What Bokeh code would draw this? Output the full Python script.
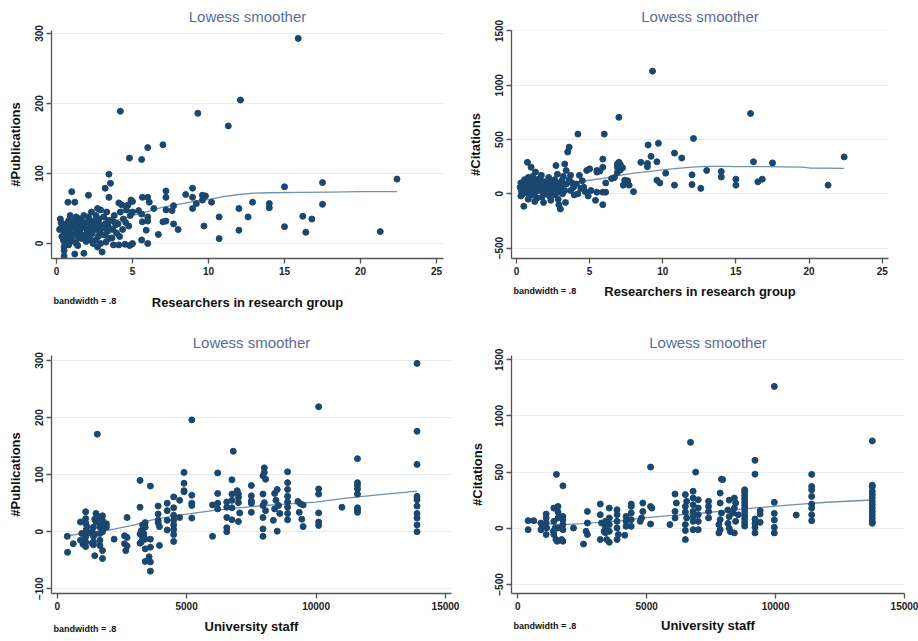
import json
from bokeh.plotting import figure
from bokeh.layouts import column, row
from bokeh.models import Range1d, FixedTicker, LinearAxis, CustomJSTickFormatter
from bokeh.embed import file_html
from bokeh.resources import INLINE

# ---------------- Top-left: #Publications vs researchers ----------------
researchers_tl = [
    15.9, 12.1, 4.2, 9.3, 11.3, 7.0, 6.0, 4.8, 5.6, 3.45, 3.55, 3.2, 1.0, 2.1, 3.45, 0.75, 1.2,
    22.4, 17.5, 15.0, 17.5, 14.0, 14.0, 12.9, 12.0, 12.6, 12.0, 10.7, 10.7, 10.2, 15.0, 16.2, 16.8, 16.4, 21.3, 9.7,
    8.95, 8.95, 8.95, 9.6, 9.8, 9.6, 9.2, 8.5, 8.0, 7.7, 7.7, 7.6, 7.2, 7.2, 7.2, 7.0, 7.2, 6.7,
    6.4, 6.0, 6.1, 6.0, 6.0, 5.9, 6.0, 5.65, 5.65, 5.6, 5.4, 5.6, 5.0, 5.0, 5.0, 4.8, 4.5, 4.1,
    0.25, 0.3, 0.4, 0.2, 0.5, 0.35, 0.45, 0.55, 0.5, 0.5, 0.5, 0.6, 0.3, 0.6,
    0.9, 0.8, 0.95, 0.7, 0.85, 1.0, 0.75, 0.9, 0.8, 0.95, 0.7,
    1.3, 1.15, 1.4, 1.1, 1.35, 1.2, 1.45, 1.05, 1.3, 1.4, 1.2, 1.5, 1.25,
    1.8, 1.6, 1.9, 1.7, 2.0, 1.55, 1.85, 1.65, 1.95, 1.8, 1.75, 1.6,
    2.3, 2.1, 2.4, 2.2, 2.45, 2.15, 2.35, 2.05, 2.25, 2.4, 2.1, 2.3,
    2.7, 2.9, 2.6, 2.8, 2.55, 2.95, 2.65, 2.85, 2.75, 2.6, 2.9, 2.7, 3.0, 2.8,
    3.3, 3.1, 3.4, 3.2, 3.05, 3.35, 3.15, 3.45, 3.25, 3.4,
    3.8, 3.6, 3.9, 3.7, 3.95, 3.65, 3.75, 3.85,
    4.1, 4.3, 4.2, 4.4, 4.05, 4.35, 4.15,
    4.9, 4.7, 4.6, 4.85, 4.55, 4.75, 4.95,
]
publications_tl = [
    293, 205, 189, 186, 168, 141, 137, 122, 120, 99, 86, 79, 74, 69, 66, 59, 59,
    92, 87, 81, 56, 57, 51, 59, 50, 38, 19, 38, 7, 59, 24, 39, 35, 16, 17, 25,
    79, 66, 50, 69, 68, 62, 57, 70, 20, 28, 54, 47, 75, 66, 48, 31, 32, 13,
    50, 66, 59, 38, 32, 19, 0, 66, 31, 5, 47, 42, 60, 45, 0, -3, -1, -2,
    35, 30, 25, 20, 15, 10, 5, 0, -5, -10, -18, 28, 22, 12,
    40, 33, 28, 22, 17, 12, 8, 3, -2, 30, 25,
    38, 32, 27, 22, 18, 13, 8, 4, 0, -3, -15, 35, 25,
    40, 35, 30, 25, 20, 16, 12, 7, 3, -14, 28, 22,
    45, 38, 32, 27, 23, 18, 14, 10, 5, 0, 30, 20,
    50, 48, 40, 35, 30, 25, 20, 15, 10, 5, 0, -5, -12, 28,
    45, 38, 33, 28, 22, 17, 12, 7, 2, 25,
    40, 33, 27, 20, 15, 8, -2, 30,
    58, 55, 45, 35, 28, 20, 10,
    62, 55, 48, 40, 30, 25, -1,
]
lowess_x_tl = [0.3, 1, 2, 3, 4, 5, 6, 7, 8, 9, 10, 11, 12, 13, 14, 16, 18, 20, 22.4]
lowess_y_tl = [12, 15, 20, 26, 33, 40, 46, 52, 56, 60, 63, 67, 70, 72, 72.5, 73, 73.5, 74, 74]

# ---------------- Top-right: #Citations vs researchers ----------------
researchers_tr = [
    9.3, 16.0, 7.0, 4.2, 6.0, 12.1, 9.7, 9.0, 3.6, 3.5, 10.8, 9.2, 11.3, 22.4, 5.9,
    16.2, 17.5, 8.5, 8.95, 8.95, 9.6, 7.0, 7.1, 7.25, 7.1, 10.2, 12.0, 13.0, 14.0, 14.0,
    15.0, 15.0, 16.8, 16.5, 21.3, 12.6, 12.0, 10.8, 9.6, 9.8, 8.0, 7.6, 7.7, 7.3, 6.1,
    5.9, 6.1, 5.4, 5.9, 5.9, 5.7, 5.5, 6.7, 6.9, 6.9, 6.9, 6.5, 7.4, 4.6, 5.1,
    5.5, 4.8, 5.0, 5.5, 4.3, 4.5, 3.3, 3.4, 3.7, 2.7, 0.75, 1.0, 0.5, 3.0,
    0.3, 0.4, 0.25, 0.5, 0.35, 0.45, 0.3, 0.55, 0.5,
    0.8, 0.9, 0.7, 0.95, 0.85, 0.75, 0.9, 0.8, 1.0,
    1.3, 1.1, 1.4, 1.2, 1.45, 1.05, 1.35, 1.15, 1.4, 1.25,
    1.7, 1.6, 1.9, 1.55, 1.8, 1.65, 1.95, 1.75, 1.85,
    2.2, 2.4, 2.05, 2.3, 2.15, 2.45, 2.25, 2.35,
    2.8, 2.6, 2.9, 2.55, 2.75, 2.95, 2.65, 2.85, 2.9,
    3.2, 3.1, 3.4, 3.05, 3.3, 3.15, 3.35,
    3.6, 3.8, 3.9, 3.7, 3.95,
    4.1, 4.4, 4.7, 4.2, 4.9,
    0.6, 1.1, 1.5, 2.0, 2.5, 3.0, 0.9, 1.3, 1.7, 2.1,
]
citations_tr = [
    1130, 740, 705, 550, 550, 510, 465, 450, 430, 385, 375, 345, 330, 340, 320,
    295, 285, 290, 280, 250, 295, 290, 270, 240, 220, 190, 175, 215, 205, 155,
    135, 80, 135, 110, 80, 50, 85, 80, 125, 100, 20, 120, 80, 80, 100,
    15, 15, -60, -100, 245, 210, 200, 150, 274, 243, 197, 140, 125, 60, 30,
    15, 215, 230, 215, 170, 120, 275, 215, 170, 260, 290, 245, -115, -140,
    100, 80, 60, 40, 20, 0, -20, 130, 70,
    150, 110, 80, 50, 30, 10, -20, -50, 90,
    200, 160, 130, 100, 70, 50, 20, -10, -40, -70,
    170, 140, 110, 80, 50, 30, 0, -30, -80,
    150, 120, 90, 60, 40, 10, -20, -60,
    180, 130, 100, 70, 40, 20, -10, -50, -100,
    160, 120, 90, 60, 30, 0, -80,
    130, 100, 60, 30, -10,
    90, 50, 20, 0, -20,
    50, 120, 60, 100, 90, 50, 60, 80, 100, 70,
]
lowess_x_tr = [0.3, 1, 2, 3, 4, 5, 6, 7, 8, 9, 10, 11, 12, 13, 14, 15, 17, 19.5, 20, 22.4]
lowess_y_tr = [60, 65, 75, 88, 105, 125, 145, 168, 190, 205, 220, 235, 245, 252, 252, 251, 250, 246, 238, 235]

# ---------------- Bottom-left: #Publications vs university staff ----------------
staff_bl = [
    13900, 13900, 13900, 13900, 13900, 13900, 13900, 13900, 13900, 13900,
    10100, 5200, 1550, 6800, 11000,
    11600, 11600, 11600, 11600, 11600, 11600, 11600, 11600,
    10100, 10100, 10100, 10100, 10100,
    9400, 9500, 9350, 9450, 9500, 9300,
    8900, 8900, 8900, 8900, 8900, 8900, 8900, 8900,
    8500, 8400, 8450, 8550, 8400, 8600, 8350, 8500,
    8000, 8000, 7950, 8050, 7950, 8000, 7950, 8050, 7950, 7950, 7950,
    7500, 7500, 7500, 7500, 7500,
    7000, 7000, 7000, 6950, 7050, 7000,
    6750, 6750, 6750, 6750, 6750,
    6550, 6550, 6550, 6550, 6550,
    6200, 6200, 6200, 6200,
    6000, 6000,
    5200, 5200, 5200, 5200,
    4900, 4900, 4900, 4900,
    4730, 4730,
    4500, 4500, 4500, 4500, 4500, 4500, 4500, 4500,
    4250, 4250, 4250, 4250,
    3900, 3900, 3900, 3900, 3950, 3950,
    3600, 3600, 3600, 3550, 3600, 3600,
    3400, 3400, 3350, 3400, 3400, 3400,
    3200, 3200, 3200, 3200,
    3300, 3300, 3250, 3350, 3300, 3250,
    2700, 2700, 2700, 2650,
    2600, 2600,
    2200,
    1900, 1900,
    1750, 1750, 1750, 1750, 1750, 1750,
    1650, 1650, 1650, 1650, 1650, 1650,
    1500, 1450, 1500, 1450, 1400, 1450,
    1400, 1350, 1400, 1350, 1400,
    1100, 1100, 1100, 1150, 1120, 1160, 1100, 1100, 1100,
    900, 950, 900, 1000,
    620,
    390, 400,
]
publications_bl = [
    295, 176, 118, 62, 56, 45, 32, 24, 12, 0,
    219, 196, 171, 141, 43,
    128, 86, 81, 75, 66, 42, 38, 34,
    75, 66, 33, 17, 11,
    49, 47, 34, 22, 9, 53,
    105, 86, 74, 62, 52, 43, 32, 21,
    74, 67, 55, 46, 40, 32, 20, 1,
    112, 104, 98, 92, 66, 51, 46, 37, 25, 5, -8,
    81, 63, 54, 50, 34,
    66, 60, 51, 72, 33, 18,
    91, 55, 42, 21, 66,
    52, 43, 25, 7, 0,
    103, 67, 50, 40,
    47, -8,
    64, 50, 46, 24,
    104, 85, 72, 70,
    55, 25,
    61, 42, 29, 20, 12, 4, -5, -17,
    50, 37, 20, 3,
    45, 31, 20, 16, 9, -24,
    80, -13, -27, -44, -53, -69,
    16, 8, -4, -13, -30, -52,
    90, 43, -4, -20,
    12, -1, 2, -9, -10, -18,
    25, -10, -25, -33,
    -7, -21,
    -13,
    14, 8,
    28, 20, 10, 0, -33, -47,
    25, 16, 8, -3, -15, -24,
    32, 22, 17, -5, -18, -42,
    8, 0, -8, -20, -23,
    35, 23, 15, 9, 3, -3, -9, -18, -26,
    17, -3, -15, -22,
    -21,
    -8, -36,
]
lowess_x_bl = [400, 1000, 2000, 3000, 3500, 4000, 5000, 6000, 7000, 8000, 9000, 10000, 11000, 12000, 13900]
lowess_y_bl = [-7, -3, 3, 12, 19, 24, 31, 37, 42, 46, 49, 52, 58, 63, 71]

# ---------------- Bottom-right: #Citations vs university staff ----------------
staff_br = [
    9950, 13750, 6700, 9200, 5150, 6900, 1500, 9200, 11400, 1750,
    13750, 13750, 13750, 13750, 13750, 13750, 13750, 13750, 13750, 13750, 13750, 13750, 13750,
    11400, 11400, 11400, 11400, 11400, 11400, 11400,
    10800,
    9950, 9950, 9950, 9950, 9950,
    9400, 9400, 9400,
    9200, 9200, 9200, 9200,
    8800, 8800, 8800, 8800, 8800, 8800, 8800, 8800, 8800, 8800, 8800, 8800,
    8400, 8450, 8400, 8350, 8450, 8400, 8550,
    8200, 8150, 8200, 8150, 8200, 8250,
    7900, 7950, 7850, 7850, 7900, 7850, 7800, 7850, 7800,
    7400, 7400, 7400, 7400,
    7000, 7000, 7000, 7000, 7000,
    6800, 6800, 6800, 6800, 6800, 6800, 6800,
    6500, 6550, 6500, 6500, 6550, 6500, 6500, 6500,
    6100, 6150, 6100, 6100,
    5900,
    5150, 5200, 5150,
    4850, 4850, 4800, 4750,
    4400, 4400, 4400, 4400, 4400,
    4200, 4200, 4200, 4150,
    3850, 3850, 3850, 3850, 3850, 3900,
    3550, 3550, 3550, 3550, 3550, 3450,
    3400, 3400, 3400, 3350, 3450, 3400,
    3200, 3200, 3250, 3200,
    2700, 2700, 2650, 2700,
    2550,
    2160,
    1750, 1750, 1750, 1750, 1750, 1700,
    1560, 1560, 1560, 1560, 1530, 1480,
    1400, 1400, 1450, 1400, 1380,
    1100, 1100, 1100, 1120, 1100,
    900, 950, 900,
    620,
    400, 400,
]
citations_br = [
    1263, 778, 765, 605, 545, 500, 480, 482, 480, 378,
    384, 370, 330, 300, 270, 240, 210, 180, 150, 120, 90, 60, 45,
    373, 343, 284, 216, 180, 121, 68,
    118,
    231, 133, 74, 9, -41,
    157, 127, 53,
    83, 44, 9, -41,
    343, 320, 290, 260, 230, 200, 170, 140, 110, 80, 50, 20,
    269, 225, 180, 136, 62, -41, 120,
    251, 163, 104, 44, 0, -30,
    437, 434, 314, 225, 136, 77, 33, -12, -41,
    240, 195, 150, 92,
    254, 180, 121, 62, -12,
    330, 270, 210, 150, 106, 62, -12,
    300, 240, 195, 145, 92, 33, -20, -100,
    305, 225, 150, 92,
    33,
    195, 180, 38,
    225, 150, 92, 62,
    216, 195, 136, 77, 18,
    106, 62, 18, -62,
    165, 121, 62, 3, -100, -55,
    180, 92, 33, -27, -124, -100,
    62, 33, 3, -27, -12, -40,
    216, 121, 47, -100,
    150, 47, -27, -55,
    -140,
    3,
    106, 77, 33, -12, -115, -100,
    195, 145, 92, 3, -115, -100,
    180, 62, 3, -55, -27,
    127, 92, 47, 3, -55,
    47, 18, -12,
    68,
    68, -12,
]
lowess_x_br = [400, 1000, 1500, 2000, 2500, 3000, 4000, 5000, 6000, 7000, 8000, 9000, 10000, 11000, 12000, 13750]
lowess_y_br = [60, 45, 35, 35, 42, 50, 68, 95, 115, 132, 155, 178, 197, 216, 232, 252]

# ---------------- tick values and labels ----------------
ticks_researchers = [0, 5, 10, 15, 20, 25]
ticks_staff = [0, 5000, 10000, 15000]
ticks_publications_top = [0, 100, 200, 300]
ticks_publications_bottom = [-100, 0, 100, 200, 300]
ticks_citations = [-500, 0, 500, 1000, 1500]

title_text = "Lowess smoother"
note_text = "bandwidth = .8"
xlabel_top = "Researchers in research group"
xlabel_bottom = "University staff"
ylabel_pubs = "#Publications"
ylabel_cits = "#Citations"

MARKER = "#1a476f"
LINE = "#7090b2"
FONT = "Liberation Sans"


def style_axis(ax):
    ax.axis_line_color = "#555555"
    ax.axis_line_width = 1.3
    ax.major_tick_line_color = "#555555"
    ax.major_tick_line_width = 1.3
    ax.major_tick_out = 5
    ax.major_tick_in = 0
    ax.minor_tick_line_color = None
    ax.major_label_text_font = FONT
    ax.major_label_text_font_size = "10px"
    ax.major_label_text_font_style = "bold"
    ax.major_label_text_color = "#222222"
    ax.major_label_standoff = 3
    ax.axis_label_text_font = FONT
    ax.axis_label_text_font_size = "13px"
    ax.axis_label_text_font_style = "bold"
    ax.axis_label_text_color = "#111111"


def panel(xs, ys, lx, ly, width, height, xr, yr, borders, xticks, yticks, xlabel, ylabel,
          ylab_standoff, title_standoff, note_standoff, xlab_standoff):
    left, right, top, bottom = borders
    p = figure(width=width, height=height, output_backend="svg", toolbar_location=None,
               x_range=Range1d(*xr), y_range=Range1d(*yr),
               min_border_left=left, min_border_right=right,
               min_border_top=top, min_border_bottom=bottom,
               title=title_text)
    p.background_fill_color = "white"
    p.border_fill_color = "white"
    p.outline_line_color = None
    p.title.align = "center"
    p.title.text_font = FONT
    p.title.text_font_size = "15px"
    p.title.text_font_style = "normal"
    p.title.text_color = "#5b6b9b"
    p.title.standoff = title_standoff

    p.xgrid.visible = False
    p.ygrid.grid_line_color = "#e4edf0"
    p.ygrid.grid_line_width = 1
    p.ygrid.ticker = FixedTicker(ticks=yticks)

    p.xaxis.ticker = FixedTicker(ticks=xticks)
    p.yaxis.ticker = FixedTicker(ticks=yticks)
    style_axis(p.xaxis[0])
    style_axis(p.yaxis[0])
    p.yaxis.axis_label = ylabel
    p.yaxis.axis_label_standoff = ylab_standoff
    p.yaxis.major_label_orientation = "vertical"

    # second, line-less axis below: small note at the left, axis title on the same line
    frame_w = width - left - right
    x_per_px = (xr[1] - xr[0]) / frame_w
    note_x = xr[0] + 33.5 * x_per_px
    ax2 = LinearAxis(ticker=FixedTicker(ticks=[note_x]),
                     formatter=CustomJSTickFormatter(code="return %s;" % json.dumps(note_text)))
    style_axis(ax2)
    ax2.axis_line_color = None
    ax2.major_tick_line_color = None
    ax2.major_tick_out = 0
    ax2.major_label_standoff = note_standoff
    ax2.major_label_text_font_size = "9px"
    ax2.major_label_text_color = "#111111"
    ax2.axis_label = xlabel
    ax2.axis_label_standoff = xlab_standoff
    p.add_layout(ax2, "below")

    p.line(lx, ly, line_color=LINE, line_width=1.3)
    p.scatter(xs, ys, marker="circle", size=6, fill_color=MARKER, line_color=MARKER)
    return p


p1 = panel(researchers_tl, publications_tl, lowess_x_tl, lowess_y_tl, 459, 320,
           (-0.33, 25.46), (-21.4, 304.3), (51, 16, 30, 62),
           ticks_researchers, ticks_publications_top, xlabel_top, ylabel_pubs, 10, 11, 18, -14)
p2 = panel(researchers_tr, citations_tr, lowess_x_tr, lowess_y_tr, 459, 320,
           (-0.34, 25.43), (-596, 1504.6), (52, 30, 30, 62),
           ticks_researchers, ticks_citations, xlabel_top, ylabel_cits, 10, 11, 8, -15)
p3 = panel(staff_bl, publications_bl, lowess_x_bl, lowess_y_bl, 459, 320,
           (-220, 15232), (-108.2, 308.8), (51, 8, 35, 47),
           ticks_staff, ticks_publications_bottom, xlabel_bottom, ylabel_pubs, 10, 9, 11, -18)
p4 = panel(staff_br, citations_br, lowess_x_br, lowess_y_br, 459, 320,
           (-244, 15000), (-580, 1538), (52, 14, 35, 47),
           ticks_staff, ticks_citations, xlabel_bottom, ylabel_cits, 8, 9, 8, -16)

layout = column(row(p1, p2), row(p3, p4))
open("out.html", "w").write(file_html(layout, INLINE))
